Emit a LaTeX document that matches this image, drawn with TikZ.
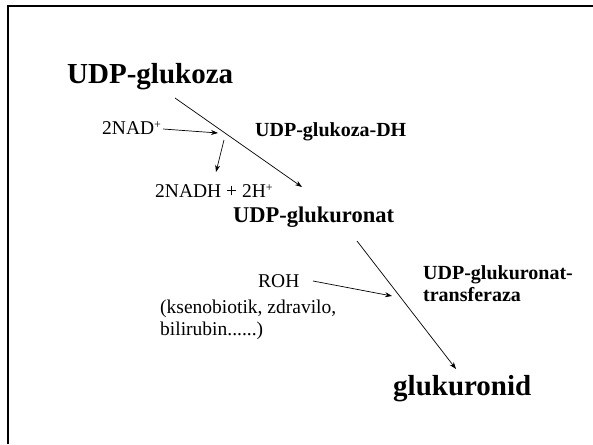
\documentclass[tikz,border=0pt]{standalone}
\usepackage{fontspec}
\setmainfont{Liberation Serif}
\usetikzlibrary{arrows.meta}
% small raised plus sign for ion charges
\newcommand{\chargeplus}{{\fontsize{12}{12}\selectfont\raisebox{6pt}{+}}}
\begin{document}
\begin{tikzpicture}[x=1pt,y=-1pt,
  lbl/.style={anchor=base west,inner sep=0pt,font=\fontsize{19.5}{22}\selectfont},
  big/.style={anchor=base west,inner sep=0pt,font=\bfseries\fontsize{29}{32}\selectfont},
  mid/.style={anchor=base west,inner sep=0pt,font=\bfseries\fontsize{22.5}{25}\selectfont},
  enz/.style={anchor=base west,inner sep=0pt,font=\bfseries\fontsize{20}{22}\selectfont},
  rxn/.style={line width=0.7pt,-{Stealth[length=7pt,width=5pt]}}]
  % page area and slide frame
  \useasboundingbox (0,0) rectangle (593,444);
  \fill[white] (0,0) rectangle (593,444);
  \draw[line width=2pt] (8,444) -- (8,6) -- (593,6);

  % metabolites
  \node[big] (udpglc) at (67,83) {UDP-glukoza};
  \node[mid] (udpgla) at (233,222) {UDP-glukuronat};
  \node[big] (gluk)   at (393,395) {glukuronid};

  % enzymes
  \node[enz] (dh)   at (255,136) {UDP-glukoza-DH};
  \node[enz] (ugt1) at (423,279) {UDP-glukuronat-};
  \node[enz] (ugt2) at (423,301) {transferaza};

  % cofactors and substrates
  \node[lbl] (nad)  at (102,134) {2NAD\chargeplus};
  \node[lbl] (nadh) at (155,197) {2NADH + 2H\chargeplus};
  \node[lbl] (roh)  at (258,287) {ROH};
  \node[lbl] (ex1)  at (160,313) {(ksenobiotik, zdravilo,};
  \node[lbl] (ex2)  at (160,335) {bilirubin......)};

  % arrow end points
  \coordinate (a1s) at (175,98);
  \coordinate (a1e) at (302,187);
  \coordinate (n1s) at (163,129);
  \coordinate (n1e) at (218,133);
  \coordinate (n2s) at (224,140);
  \coordinate (n2e) at (216,172);
  \coordinate (a2s) at (357,241);
  \coordinate (a2e) at (456,369);
  \coordinate (r1s) at (313,281);
  \coordinate (r1e) at (392,296);

  % reactions
  \draw[rxn] (a1s) -- (a1e);
  \draw[rxn] (n1s) -- (n1e);
  \draw[rxn] (n2s) -- (n2e);
  \draw[rxn] (a2s) -- (a2e);
  \draw[rxn] (r1s) -- (r1e);
\end{tikzpicture}
\end{document}
